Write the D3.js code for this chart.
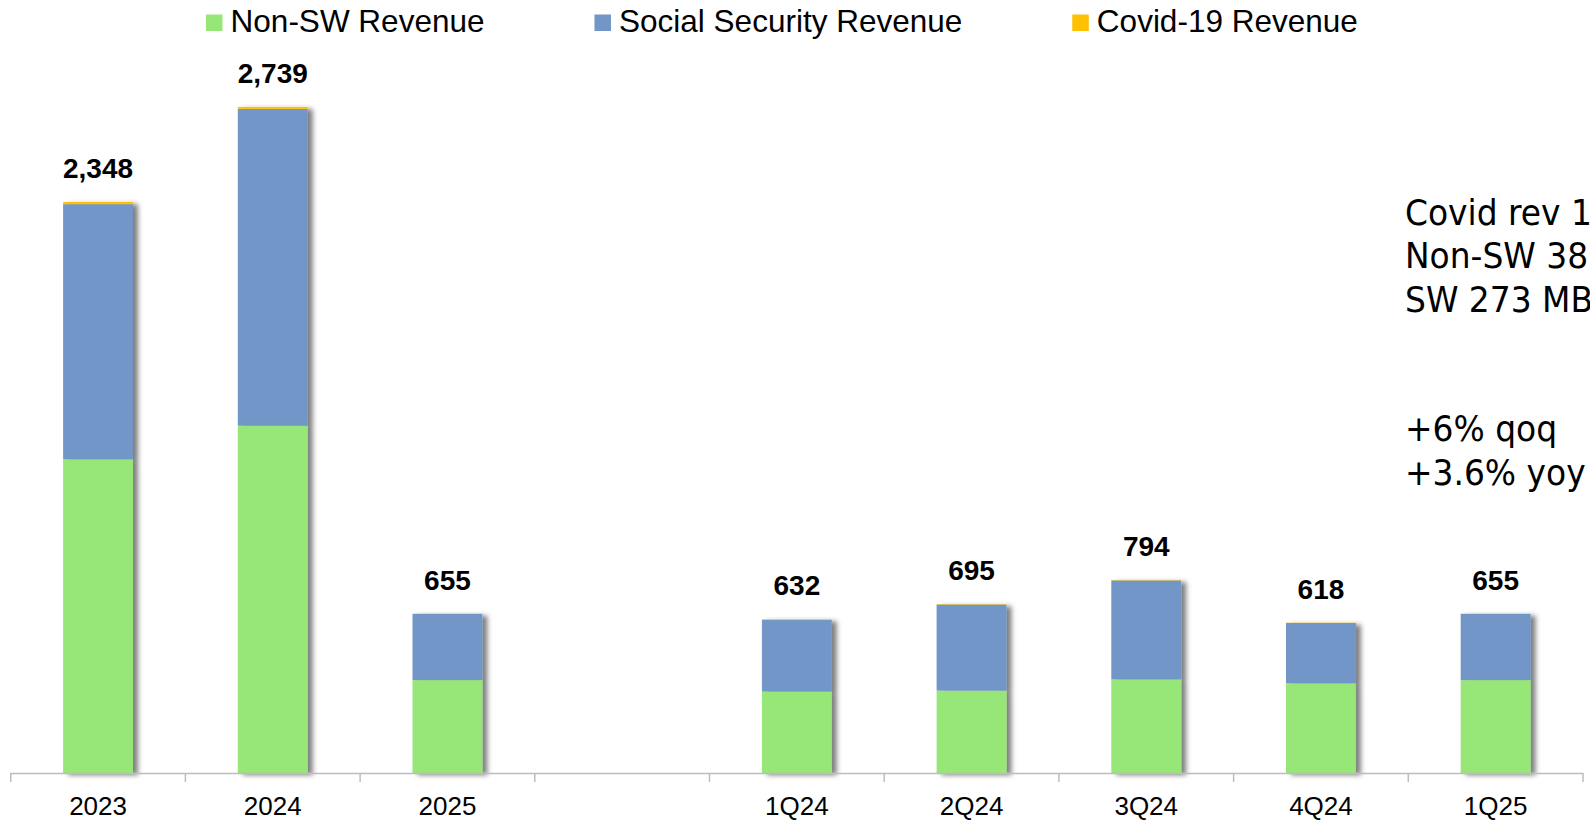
<!DOCTYPE html>
<html>
<head>
<meta charset="utf-8">
<script src="https://cdn.jsdelivr.net/npm/d3@7"></script>
<style>
  html, body { margin: 0; padding: 0; background: #fff; }
  svg { display: block; }
</style>
</head>
<body>
<svg id="chart" width="1590" height="820"></svg>
<script>
// ---- data ----
const categories = ["2023", "2024", "2025", " ", "1Q24", "2Q24", "3Q24", "4Q24", "1Q25"];
const nonSW      = [1290, 1428, 382, null, 335, 339, 385, 369, 382];
const socialSec  = [1049, 1303, 272.6, null, 294, 354, 407, 248, 272.6];
const covid      = [9, 8, 0.4, null, 3, 2, 2, 1, 0.4];
const totals     = [2348, 2739, 655, null, 632, 695, 794, 618, 655];
const seriesNames = ["Non-SW Revenue", "Social Security Revenue", "Covid-19 Revenue"];
const seriesColors = ["#97E678", "#7296C8", "#FFC000"];
const notes = ["Covid rev 1", "Non-SW 38", "SW 273 MB", "", "", "+6% qoq", "+3.6% yoy"];

// ---- layout ----
const svg = d3.select("#chart");
const W = 1590, H = 820;
const x0 = 10.7, x1 = 1583;
const yBase = 773;

const x = d3.scaleBand().domain(categories).range([x0, x1]).paddingInner(0.6).paddingOuter(0.3);
const xEdge = d3.scaleBand().domain(categories).range([x0, x1]).padding(0);
const y = d3.scaleLinear().domain([0, 3000]).range([yBase, yBase - 0.2432 * 3000]);

const rows = categories.map((c, i) => ({
  cat: c, nonSW: nonSW[i], socialSec: socialSec[i], covid: covid[i], total: totals[i]
})).filter(d => d.nonSW !== null);

const stack = d3.stack().keys(["nonSW", "socialSec", "covid"]);
const stacked = stack(rows);

// shadow filter
const defs = svg.append("defs");
const f = defs.append("filter").attr("id", "shadow")
  .attr("x", "-20%").attr("y", "-10%").attr("width", "150%").attr("height", "130%");
f.append("feDropShadow").attr("dx", 5).attr("dy", 2).attr("stdDeviation", 2.5)
  .attr("flood-color", "#000").attr("flood-opacity", 0.5);

// bars: one group per category so the shadow wraps the whole stack
const barGroups = svg.append("g").selectAll("g.bar")
  .data(rows).join("g").attr("class", "bar").attr("filter", "url(#shadow)");

barGroups.each(function(d, i) {
  const g = d3.select(this);
  stacked.forEach((layer, k) => {
    const seg = layer[i];
    g.append("rect")
      .attr("x", x(d.cat))
      .attr("width", x.bandwidth())
      .attr("y", y(seg[1]))
      .attr("height", Math.max(0, y(seg[0]) - y(seg[1])))
      .attr("fill", seriesColors[k]);
  });
});

// value labels
svg.append("g").selectAll("text")
  .data(rows).join("text")
  .attr("x", d => x(d.cat) + x.bandwidth() / 2)
  .attr("y", d => y(d.total) - 24)
  .attr("text-anchor", "middle")
  .attr("font-family", "Arial, 'Liberation Sans', sans-serif")
  .attr("font-weight", "bold")
  .attr("font-size", 28)
  .attr("fill", "#000")
  .text(d => d3.format(",")(d.total));

// x axis
const axisG = svg.append("g");
axisG.append("line")
  .attr("x1", x0).attr("x2", x1).attr("y1", yBase + 0.5).attr("y2", yBase + 0.5)
  .attr("stroke", "#BDBDBD").attr("stroke-width", 1.5);
const edges = categories.map(c => xEdge(c)).concat([x1]);
axisG.selectAll("line.tick").data(edges).join("line")
  .attr("class", "tick")
  .attr("x1", d => d).attr("x2", d => d)
  .attr("y1", yBase).attr("y2", yBase + 9)
  .attr("stroke", "#BDBDBD").attr("stroke-width", 1.5);
axisG.selectAll("text").data(categories).join("text")
  .attr("x", d => x(d) + x.bandwidth() / 2)
  .attr("y", 815)
  .attr("text-anchor", "middle")
  .attr("font-family", "Arial, 'Liberation Sans', sans-serif")
  .attr("font-size", 26)
  .attr("fill", "#000")
  .text(d => d.trim());

// legend
const legend = svg.append("g");
let lx = 206;
seriesNames.forEach((name, k) => {
  legend.append("rect").attr("x", lx).attr("y", 14.5).attr("width", 16.5).attr("height", 16.5)
    .attr("fill", seriesColors[k]);
  const t = legend.append("text")
    .attr("x", lx + 24.6).attr("y", 31.5)
    .attr("font-family", "Arial, 'Liberation Sans', sans-serif")
    .attr("font-size", 31.5)
    .attr("fill", "#000")
    .text(name);
  lx = lx + 24.6 + t.node().getComputedTextLength() + 110;
});

// annotation (clipped at right edge)
const noteG = svg.append("g").attr("transform", "translate(1405,225) scale(0.94,1)");
notes.forEach((n, i) => {
  if (!n) return;
  noteG.append("text")
    .attr("x", 0).attr("y", i * 43.3)
    .attr("font-family", "'DejaVu Sans', Verdana, sans-serif")
    .attr("font-size", 35)
    .attr("fill", "#000")
    .text(n);
});
</script>
</body>
</html>
